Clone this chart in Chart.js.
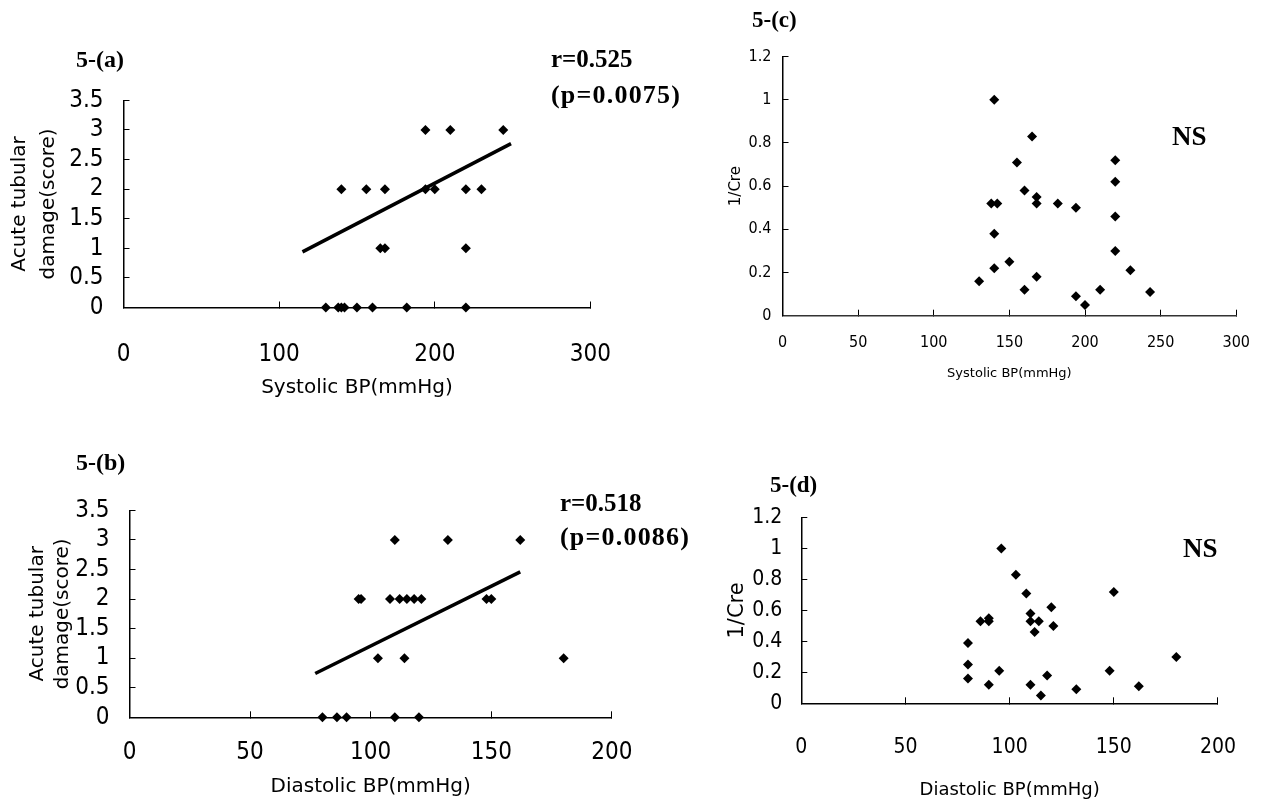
<!DOCTYPE html>
<html>
<head>
<meta charset="utf-8">
<title>Figure 5</title>
<script src="https://cdn.jsdelivr.net/npm/chart.js@4.4.1/dist/chart.umd.min.js"></script>
<style>
  html, body { margin: 0; padding: 0; background: #fff; }
  body { width: 1274px; height: 802px; position: relative; overflow: hidden; }
  canvas { position: absolute; }
  .lbl {
    position: absolute; color: #000; white-space: nowrap; line-height: 1;
    font-family: 'Liberation Serif', 'Times New Roman', serif; font-weight: bold;
    transform: translateY(-50%);
  }
  .pv { letter-spacing: 1.2px; }
</style>
</head>
<body>
<canvas id="chartA" width="650" height="350" style="left:0px;top:60px"></canvas>
<canvas id="chartB" width="660" height="332" style="left:0px;top:470px"></canvas>
<canvas id="chartC" width="554" height="360" style="left:720px;top:30px"></canvas>
<canvas id="chartD" width="554" height="322" style="left:720px;top:480px"></canvas>

<div class="lbl" style="left:76px;top:59px;font-size:24px">5-(a)</div>
<div class="lbl" style="left:551px;top:58px;font-size:25px">r=0.525</div>
<div class="lbl pv" style="left:551px;top:95px;font-size:26px">(p=0.0075)</div>
<div class="lbl" style="left:76px;top:462px;font-size:24px">5-(b)</div>
<div class="lbl" style="left:560px;top:502px;font-size:25px">r=0.518</div>
<div class="lbl pv" style="left:560px;top:537px;font-size:26px">(p=0.0086)</div>
<div class="lbl" style="left:752px;top:19px;font-size:23px">5-(c)</div>
<div class="lbl" style="left:1172px;top:136px;font-size:27px">NS</div>
<div class="lbl" style="left:770px;top:484px;font-size:23px">5-(d)</div>
<div class="lbl" style="left:1183px;top:548px;font-size:27px">NS</div>

<script>
// 5-(a): systolic BP vs acute tubular damage score
const sbpA   = [194, 210, 244, 140, 156, 168, 194, 200, 220, 230, 165, 168, 220, 130, 138, 140, 142, 150, 160, 182, 220];
const scoreA = [3, 3, 3, 2, 2, 2, 2, 2, 2, 2, 1, 1, 1, 0, 0, 0, 0, 0, 0, 0, 0];
const fitAx = [115, 249];
const fitAy = [0.94, 2.77];

// 5-(b): diastolic BP vs acute tubular damage score
const dbpB   = [110, 132, 162, 95, 96, 108, 112, 115, 118, 121, 148, 150, 103, 114, 180, 80, 86, 90, 110, 120];
const scoreB = [3, 3, 3, 2, 2, 2, 2, 2, 2, 2, 2, 2, 1, 1, 1, 0, 0, 0, 0, 0];
const fitBx = [77, 162];
const fitBy = [0.74, 2.46];

// 5-(c): systolic BP vs 1/Cre
const sbpC = [140, 165, 155, 220, 220, 160, 168, 168, 138, 142, 182, 194, 220, 140, 220, 150, 140, 230, 168, 130, 160, 210, 243, 194, 200];
const creC = [1.0, 0.83, 0.71, 0.72, 0.62, 0.58, 0.55, 0.52, 0.52, 0.52, 0.52, 0.50, 0.46, 0.38, 0.30, 0.25, 0.22, 0.21, 0.18, 0.16, 0.12, 0.12, 0.11, 0.09, 0.05];

// 5-(d): diastolic BP vs 1/Cre
const dbpD = [96, 103, 108, 150, 120, 110, 90, 90, 86, 110, 114, 121, 112, 80, 180, 80, 95, 148, 118, 80, 90, 110, 162, 132, 115];
const creD = [1.0, 0.83, 0.71, 0.72, 0.62, 0.58, 0.55, 0.53, 0.53, 0.53, 0.53, 0.50, 0.46, 0.39, 0.30, 0.25, 0.21, 0.21, 0.18, 0.16, 0.12, 0.12, 0.11, 0.09, 0.05];

// tick values
const sysTicks   = [0, 100, 200, 300];
const sysTicksC  = [0, 50, 100, 150, 200, 250, 300];
const diaTicks   = [0, 50, 100, 150, 200];
const scoreTicks = [0, 0.5, 1, 1.5, 2, 2.5, 3, 3.5];
const creTicks   = [0, 0.2, 0.4, 0.6, 0.8, 1, 1.2];

const NARROW = "'Liberation Sans Narrow', 'DejaVu Sans Condensed', 'Arial Narrow', 'Liberation Sans', sans-serif";
const SANS = "'DejaVu Sans', 'Noto Sans', sans-serif";

function fmt(v) {
    return String(Math.round(v * 10) / 10);
}

function makePanel(id, c) {
    const points = c.xs.map((x, i) => ({ x: x, y: c.ys[i] }));
    const datasets = [{
        data: points,
        pointStyle: 'rectRot',
        pointRadius: c.dot,
        backgroundColor: '#000',
        borderColor: '#000',
        borderWidth: 0,
        clip: false
    }];
    // regression line, only in (a) and (b)
    if (c.fitX) {
        datasets.push({
            data: c.fitX.map((x, i) => ({ x: x, y: c.fitY[i] })),
            showLine: true,
            borderColor: '#000',
            borderWidth: 3.5,
            pointRadius: 0,
            clip: false
        });
    }

    new Chart(document.getElementById(id), {
        type: 'scatter',
        data: { datasets: datasets },
        options: {
            responsive: false,
            animation: false,
            devicePixelRatio: 1,
            layout: { padding: { top: c.padTop, right: c.padRight, left: 0, bottom: 0 } },
            plugins: { legend: { display: false }, tooltip: { enabled: false } },
            scales: {
                x: {
                    type: 'linear',
                    min: c.xTicks[0],
                    max: c.xTicks[c.xTicks.length - 1],
                    afterBuildTicks: s => { s.ticks = c.xTicks.map(v => ({ value: v })); },
                    afterFit: s => { s.height = c.xH; },
                    grid: { drawOnChartArea: false, tickLength: -6, color: '#000', lineWidth: 1 },
                    border: { color: c.xDash ? '#333' : '#000', width: 1.5, dash: c.xDash || [] },
                    ticks: {
                        color: '#000', padding: c.xPad, maxRotation: 0, autoSkip: false,
                        callback: fmt,
                        font: { family: NARROW, size: c.tickSize }
                    },
                    title: {
                        display: true, text: c.xTitle, color: '#000',
                        padding: { top: 0, bottom: c.xTitlePad },
                        font: { family: SANS, size: c.xTitleSize }
                    }
                },
                y: {
                    type: 'linear',
                    min: c.yTicks[0],
                    max: c.yTicks[c.yTicks.length - 1],
                    afterBuildTicks: s => { s.ticks = c.yTicks.map(v => ({ value: v })); },
                    afterFit: s => { s.width = c.yW; },
                    grid: { drawOnChartArea: false, tickLength: -6, color: '#000', lineWidth: 1 },
                    border: { color: '#000', width: 1.5 },
                    ticks: {
                        color: '#000', padding: c.yPad, autoSkip: false,
                        callback: fmt,
                        font: { family: NARROW, size: c.tickSize }
                    },
                    title: {
                        display: true, text: c.yTitle, color: '#000',
                        padding: { top: c.yTitlePad, bottom: 0 },
                        font: { family: SANS, size: c.yTitleSize, lineHeight: c.yTitleLH }
                    }
                }
            }
        }
    });
}

makePanel('chartA', {
    xs: sbpA, ys: scoreA, fitX: fitAx, fitY: fitAy, dot: 5,
    xTicks: sysTicks, yTicks: scoreTicks,
    padTop: 30, padRight: 36.5, yW: 123.5, xH: 102.5,
    tickSize: 24, xPad: 39, yPad: 26,
    xTitle: 'Systolic BP(mmHg)', xTitleSize: 20, xTitlePad: 10,
    yTitle: ['Acute tubular', 'damage(score)'], yTitleSize: 20, yTitleLH: 1.45, yTitlePad: 5.5
});

makePanel('chartB', {
    xs: dbpB, ys: scoreB, fitX: fitBx, fitY: fitBy, dot: 5,
    xTicks: diaTicks, yTicks: scoreTicks,
    padTop: 20, padRight: 36.7, yW: 129.5, xH: 84.7,
    tickSize: 24, xPad: 27.5, yPad: 26,
    xTitle: 'Diastolic BP(mmHg)', xTitleSize: 20, xTitlePad: 3.3,
    yTitle: ['Acute tubular', 'damage(score)'], yTitleSize: 20, yTitleLH: 1.25, yTitlePad: 25
});

makePanel('chartC', {
    xs: sbpC, ys: creC, dot: 5,
    xTicks: sysTicksC, yTicks: creTicks,
    padTop: 26.5, padRight: 27.6, yW: 62.5, xH: 74.3,
    tickSize: 16, xPad: 24, yPad: 17, xDash: [2, 2],
    xTitle: 'Systolic BP(mmHg)', xTitleSize: 13, xTitlePad: 8.9,
    yTitle: '1/Cre', yTitleSize: 15, yTitleLH: 1.2, yTitlePad: 7
});

makePanel('chartD', {
    xs: dbpD, ys: creD, dot: 5,
    xTicks: diaTicks, yTicks: creTicks,
    padTop: 26.7, padRight: 25.8, yW: 81.3, xH: 98.7,
    tickSize: 21, xPad: 38, yPad: 25,
    xTitle: 'Diastolic BP(mmHg)', xTitleSize: 18, xTitlePad: 1.2,
    yTitle: '1/Cre', yTitleSize: 21, yTitleLH: 1.2, yTitlePad: 5
});
</script>
</body>
</html>
